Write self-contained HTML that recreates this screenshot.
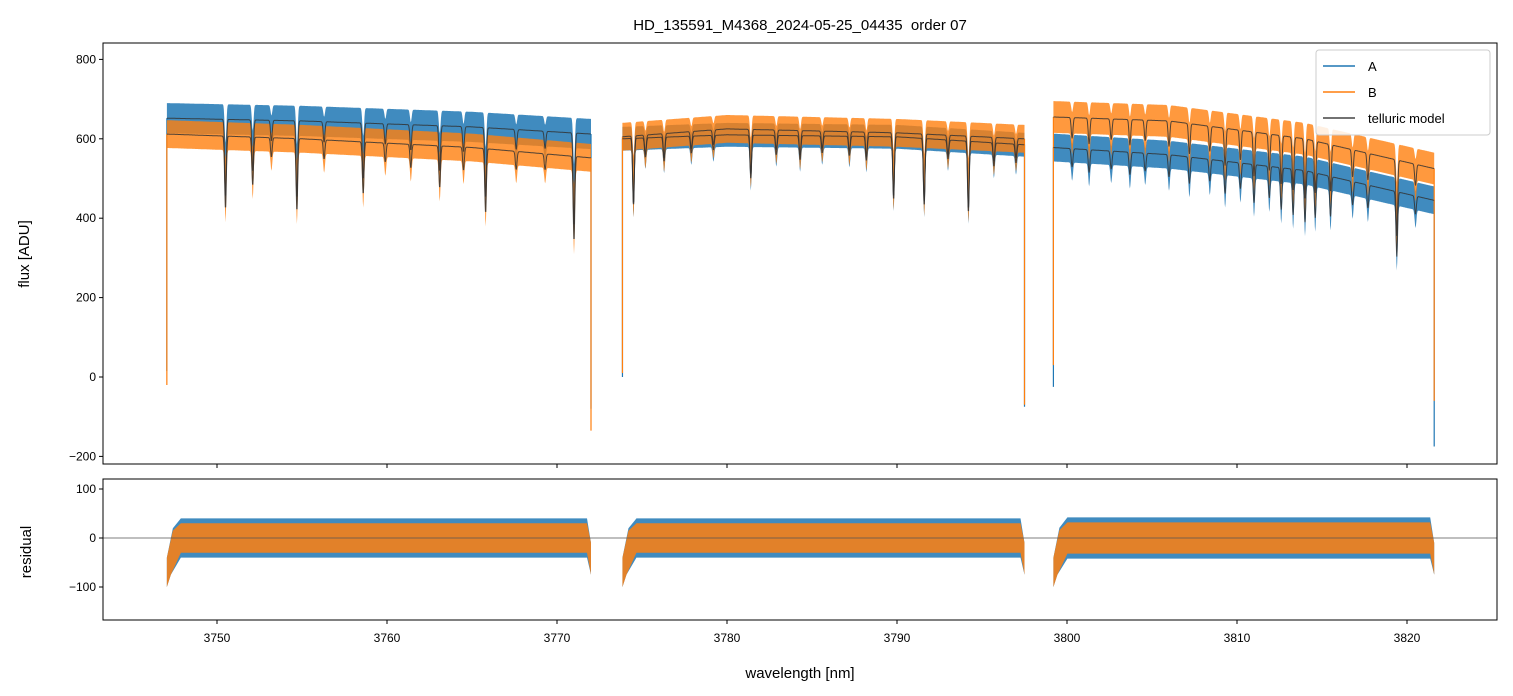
<!DOCTYPE html>
<html><head><meta charset="utf-8">
<style>
html,body{margin:0;padding:0;background:#fff;}
svg{display:block;font-family:"Liberation Sans","DejaVu Sans",sans-serif;}
</style></head>
<body>
<svg id="chart" width="1513" height="696" viewBox="0 0 1513 696" xmlns="http://www.w3.org/2000/svg">
<text x="800" y="30" font-size="15" text-anchor="middle" style="white-space:pre">HD_135591_M4368_2024-05-25_04435  order 07</text>
<g id="topPanel"></g>
<g id="botPanel"></g>
<text transform="translate(29,254) rotate(-90)" font-size="15" text-anchor="middle">flux [ADU]</text>
<text transform="translate(31,552) rotate(-90)" font-size="15" text-anchor="middle">residual</text>
<text x="800" y="678" font-size="15" text-anchor="middle">wavelength [nm]</text>
</svg>
<script>
// ---- data ----
const segStart = [3747.05, 3773.85, 3799.2];
const segEnd = [3772.0, 3797.5, 3821.6];
const knotWl = [[3747,3755,3765,3772],[3773.8,3780,3790,3797.5],[3799.2,3806,3814,3821.6]];
const knotA = [[652,645,630,612],[600,610,605,585],[578,560,520,445]];
const knotB = [[612,600,578,552],[605,625,615,600],[655,645,600,525]];
const lineCenters = [3750.5,3752.1,3753.2,3754.7,3756.3,3758.6,3759.9,3761.4,3763.1,3764.5,3765.8,3767.6,3769.3,3771.0,
 3774.5,3775.2,3776.3,3777.9,3779.2,3781.4,3782.9,3784.3,3785.6,3787.2,3788.2,3789.8,3791.6,3793.0,3794.2,3795.7,3797.0,
 3800.3,3801.3,3802.6,3803.7,3804.6,3806.0,3807.2,3808.4,3809.3,3810.2,3811.0,3811.9,3812.6,3813.3,3814.0,3814.6,3815.5,3816.8,3817.7,3819.4,3820.5];
const lineDepths = [0.3,0.2,0.08,0.3,0.08,0.22,0.08,0.1,0.18,0.1,0.28,0.08,0.07,0.38,
 0.28,0.08,0.1,0.07,0.06,0.18,0.08,0.1,0.07,0.08,0.1,0.26,0.28,0.08,0.3,0.1,0.08,
 0.08,0.1,0.08,0.1,0.08,0.1,0.12,0.1,0.15,0.12,0.18,0.15,0.2,0.22,0.25,0.22,0.2,0.12,0.12,0.35,0.1];
const noiseA = [38,30,35];
const noiseB = [35,35,40];
const residNoiseA = [40,40,42];
const residNoiseB = [30,30,32];
const edgeLowA = [[15,-80],[0,-75],[-25,-175]];
const edgeLowB = [[-20,-135],[10,-70],[30,-60]];
const flxTicks = [-200,0,200,400,600,800];
const resTicks = [-100,0,100];
const xTicks = [3750,3760,3770,3780,3790,3800,3810,3820];

// ---- axes ----
const X0=103,X1=1497;
const xs = w => 217 + (w-3750)*17;
const ysT = v => 377 - v*0.397;
const ysB = v => 538 - v*0.49;
const NS='http://www.w3.org/2000/svg';
function mk(p,tag,attrs){const e=document.createElementNS(NS,tag);for(const k in attrs)e.setAttribute(k,attrs[k]);p.appendChild(e);return e;}
function interp(xa,ya,x){for(let i=0;i<xa.length-1;i++){if(x<=xa[i+1]){const t=(x-xa[i])/(xa[i+1]-xa[i]);return ya[i]+t*(ya[i+1]-ya[i]);}}return ya[ya.length-1];}
function absorb(w){let f=1;for(let i=0;i<lineCenters.length;i++){const d=(w-lineCenters[i])/0.07;if(Math.abs(d)<5)f*=1-lineDepths[i]*Math.exp(-d*d);}return f;}

const gTop=document.getElementById('topPanel'), gBot=document.getElementById('botPanel');
const svgEl=document.getElementById('chart');

function frame(g,y0,y1,ticks,ys,name){
  for(const t of ticks){
    const tl=mk(g,'line',{x1:X0-4,x2:X0,y1:ys(t),y2:ys(t),stroke:'#000'});
    
    
    const tx=mk(g,'text',{x:X0-7,y:ys(t)+4,'font-size':12,'text-anchor':'end'});
    tx.textContent=t<0?'\u2212'+(-t):String(t);
    
    
  }
  for(const t of xTicks){
    const tl=mk(g,'line',{x1:xs(t),x2:xs(t),y1:y1,y2:y1+4,stroke:'#000'});
    
    
  }
}
frame(gTop,43,464,flxTicks,ysT,'flux');
frame(gBot,479,620,resTicks,ysB,'residual');
for(const t of xTicks){
  const tx=mk(svgEl,'text',{x:xs(t),y:642,'font-size':12,'text-anchor':'middle'});
  tx.textContent=t;
  
  
}

const clipT=mk(svgEl,'clipPath',{id:'ct'});mk(clipT,'rect',{x:X0,y:43,width:X1-X0,height:421});
const clipB=mk(svgEl,'clipPath',{id:'cb'});mk(clipB,'rect',{x:X0,y:479,width:X1-X0,height:141});
const gT=mk(gTop,'g',{'clip-path':'url(#ct)'});
const gB=mk(gBot,'g',{'clip-path':'url(#cb)'});

function band(g,seg,knots,noise,lows,color,op,name){
  const up=[],dn=[];
  for(let w=segStart[seg];w<=segEnd[seg]+1e-6;w+=0.025){
    const c=interp(knotWl[seg],knots[seg],w), a=absorb(w);
    up.push(xs(w).toFixed(1)+','+ysT(c*(1-0.5*(1-a))+noise[seg]).toFixed(1));
    dn.push(xs(w).toFixed(1)+','+ysT(c*a-noise[seg]).toFixed(1));
  }
  const p=mk(g,'polygon',{points:up.concat(dn.reverse()).join(' '),fill:color,'fill-opacity':op});
  
  
  const m0=interp(knotWl[seg],knots[seg],segStart[seg]);
  const m1=interp(knotWl[seg],knots[seg],segEnd[seg]);
  const e1=mk(g,'line',{x1:xs(segStart[seg]),x2:xs(segStart[seg]),y1:ysT(m0),y2:ysT(lows[seg][0]),stroke:color,'stroke-width':1.2});
  
  
  const e2=mk(g,'line',{x1:xs(segEnd[seg]),x2:xs(segEnd[seg]),y1:ysT(m1),y2:ysT(lows[seg][1]),stroke:color,'stroke-width':1.2});
  
  
}
function model(g,seg,knots,name){
  const pts=[];
  for(let w=segStart[seg];w<=segEnd[seg]+1e-6;w+=0.02){
    pts.push(xs(w).toFixed(1)+','+ysT(interp(knotWl[seg],knots[seg],w)*absorb(w)).toFixed(1));
  }
  const p=mk(g,'polyline',{points:pts.join(' '),fill:'none',stroke:'#333','stroke-width':1,'stroke-opacity':0.85});
  
  
}
for(let s=0;s<3;s++) band(gT,s,knotA,noiseA,edgeLowA,'#1f77b4',0.85,'series-a-flux');
for(let s=0;s<3;s++) band(gT,s,knotB,noiseB,edgeLowB,'#ff7f0e',0.8,'series-b-flux');
for(let s=0;s<3;s++){model(gT,s,knotA,'telluric-model-a');model(gT,s,knotB,'telluric-model-b');}

for(let s=0;s<3;s++){
  [['#1f77b4',residNoiseA,0.85,'series-a-residual'],['#ff7f0e',residNoiseB,0.85,'series-b-residual']].forEach(cfg=>{
    const x0=xs(segStart[s]),x1=xs(segEnd[s]);
    const r=cfg[1][s];
    const pts=[x0+','+ysB(-40),(x0+6)+','+ysB(r*0.5),(x0+14)+','+ysB(r),(x1-4)+','+ysB(r),x1+','+ysB(-10),x1+','+ysB(-75),(x1-4)+','+ysB(-r),(x0+14)+','+ysB(-r),(x0+4)+','+ysB(-75),x0+','+ysB(-100)];
    const p=mk(gB,'polygon',{points:pts.join(' '),fill:cfg[0],'fill-opacity':cfg[2]});
    
    
  });
}
mk(gB,'line',{x1:X0,x2:X1,y1:ysB(0),y2:ysB(0),stroke:'#555','stroke-width':0.8});

const f1=mk(gTop,'rect',{x:X0,y:43,width:X1-X0,height:421,fill:'none',stroke:'#000'});

const f2=mk(gBot,'rect',{x:X0,y:479,width:X1-X0,height:141,fill:'none',stroke:'#000'});


const lg=mk(svgEl,'g',{});

mk(lg,'rect',{x:1316,y:50,width:174,height:85,rx:3,fill:'#fff','fill-opacity':0.85,stroke:'#ccc'});
const leg=[['A','#1f77b4'],['B','#ff7f0e'],['telluric model','#444']];
leg.forEach((e,i)=>{
  const y=66+i*26;
  const l=mk(lg,'line',{x1:1323,x2:1355,y1:y,y2:y,stroke:e[1],'stroke-width':1.5});
  
  const t=mk(lg,'text',{x:1368,y:y+5,'font-size':13});t.textContent=e[0];
  
});
</script>
</body></html>
